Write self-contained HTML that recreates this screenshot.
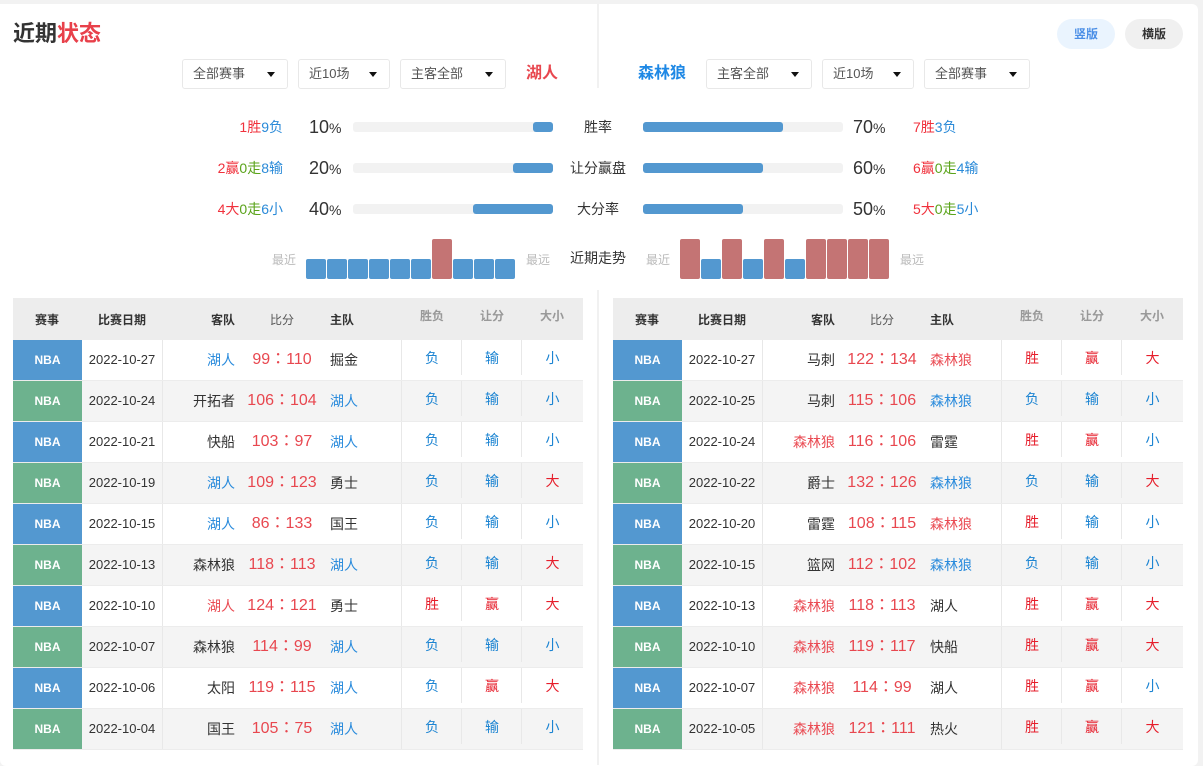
<!DOCTYPE html>
<html><head><meta charset="utf-8">
<style>
*{margin:0;padding:0;box-sizing:border-box}
body{width:1203px;height:765px;background:#f2f2f2;position:relative;overflow:hidden;font-family:"Liberation Sans","Noto Sans CJK SC",sans-serif;color:#333}
.card{position:absolute;left:0;top:4px;width:1198px;height:762px;background:#fff;border-radius:0 6px 6px 6px}
.a{position:absolute;white-space:nowrap}
.vl{position:absolute;left:597px;width:2px;background:#f1f1f1}
.dd{position:absolute;top:59px;height:30px;border:1px solid #e8e8e8;border-radius:3px;font-size:13px;color:#555;line-height:28px;padding-left:10px;background:#fff}
.dd:after{content:"";position:absolute;right:12px;top:12px;border-left:4px solid transparent;border-right:4px solid transparent;border-top:5px solid #111}
.btn{position:absolute;top:19px;height:30px;border-radius:15px;font-size:12px;font-weight:bold;line-height:30px;text-align:center}
.rec{position:absolute;font-size:14px;line-height:20px;height:20px;white-space:nowrap}
.pct{position:absolute;font-size:18px;line-height:22px;height:22px;color:#333}
.pct small{font-size:14px}
.lab{position:absolute;left:548px;width:100px;text-align:center;font-size:14px;line-height:20px;color:#333}
.trk{position:absolute;width:200px;height:10px;background:#f2f2f2;border-radius:3px}
.fill{position:absolute;top:0;height:10px;background:#5398d0;border-radius:3px}
.r1{color:#f0313c}.b1{color:#2a8ad8}.g1{color:#5aa31a}
.far{position:absolute;top:250px;font-size:12px;line-height:20px;color:#bbb}
.bar{position:absolute;width:20px;border-radius:2px}
.bb{background:#5398d0;top:259px;height:20px}
.rb{background:#c47474;top:239px;height:40px}
.tbl{position:absolute;top:298px;width:570px}
.hd{position:relative;height:42px;background:#ededed;font-size:12px;font-weight:bold}
.hd span{position:absolute;width:70px;text-align:center;line-height:20px;top:12px}
.hd span.lt{color:#999;top:8px}
.hd span.nw{font-weight:normal;color:#555}
.r{display:flex;height:41px;border-bottom:1px solid #ececec;background:#fff}
.r.g{background:#f4f4f4}
.c1{width:69px;color:#fff;font-weight:bold;font-size:12px;text-align:center;line-height:40px}
.c1.bl{background:#5398d0}.c1.gr{background:#6db28e}
.c2{width:81px;border-right:1px solid #e8e8e8;font-size:13px;text-align:center;line-height:40px;color:#333}
.c3{width:239px;border-right:1px solid #e8e8e8;position:relative;font-size:14px;line-height:40px}
.c3 .aw{position:absolute;right:166px;top:0}
.c3 .sc{position:absolute;left:69px;width:100px;text-align:center;font-size:16px;color:#e8474f;top:0;font-family:"Liberation Sans","Noto Sans CJK JP",sans-serif}
.c3 .hm{position:absolute;left:167px;top:0}
.c4,.c5,.c6{width:60px;text-align:center;font-size:14px;line-height:36px;position:relative}
.c6{width:61px}
.c4:after,.c5:after{content:"";position:absolute;right:0;top:0;width:1px;height:35px;background:#e8e8e8}
.tb{color:#2a8bdc}.tr{color:#ea4b53}
.xb{color:#1c84d2}.xr{color:#e61e2b}
</style></head><body>
<div class="card"></div>
<div class="vl" style="top:4px;height:84px"></div>
<div class="vl" style="top:290px;height:475px"></div>

<div class="a" style="left:13px;top:21px;font-size:22px;font-weight:bold;line-height:26px"><span style="color:#333">近期</span><span style="color:#e8404a">状态</span></div>
<div class="btn" style="left:1057px;width:58px;background:#eaf4fe;color:#4a8ee6">竖版</div>
<div class="btn" style="left:1125px;width:58px;background:#f0f0f0;color:#333">横版</div>

<div class="dd" style="left:182px;width:106px">全部赛事</div>
<div class="dd" style="left:298px;width:92px">近10场</div>
<div class="dd" style="left:400px;width:106px">主客全部</div>
<div class="a" style="left:526px;top:63px;font-size:16px;font-weight:bold;color:#e8474f;line-height:22px">湖人</div>
<div class="a" style="left:638px;top:63px;font-size:16px;font-weight:bold;color:#1e88e5;line-height:22px">森林狼</div>
<div class="dd" style="left:706px;width:106px">主客全部</div>
<div class="dd" style="left:822px;width:92px">近10场</div>
<div class="dd" style="left:924px;width:106px">全部赛事</div>

<!-- stats row 1 -->
<div class="rec" style="right:920px;top:117px"><span class="r1">1胜</span><span class="b1">9负</span></div>
<div class="pct" style="left:309px;top:116px">10<small>%</small></div>
<div class="trk" style="left:353px;top:122px"><div class="fill" style="right:0;width:20px"></div></div>
<div class="lab" style="top:117px">胜率</div>
<div class="trk" style="left:643px;top:122px"><div class="fill" style="left:0;width:140px"></div></div>
<div class="pct" style="left:853px;top:116px">70<small>%</small></div>
<div class="rec" style="left:913px;top:117px"><span class="r1">7胜</span><span class="b1">3负</span></div>
<!-- row 2 -->
<div class="rec" style="right:920px;top:158px"><span class="r1">2赢</span><span class="g1">0走</span><span class="b1">8输</span></div>
<div class="pct" style="left:309px;top:157px">20<small>%</small></div>
<div class="trk" style="left:353px;top:163px"><div class="fill" style="right:0;width:40px"></div></div>
<div class="lab" style="top:158px">让分赢盘</div>
<div class="trk" style="left:643px;top:163px"><div class="fill" style="left:0;width:120px"></div></div>
<div class="pct" style="left:853px;top:157px">60<small>%</small></div>
<div class="rec" style="left:913px;top:158px"><span class="r1">6赢</span><span class="g1">0走</span><span class="b1">4输</span></div>
<!-- row 3 -->
<div class="rec" style="right:920px;top:199px"><span class="r1">4大</span><span class="g1">0走</span><span class="b1">6小</span></div>
<div class="pct" style="left:309px;top:198px">40<small>%</small></div>
<div class="trk" style="left:353px;top:204px"><div class="fill" style="right:0;width:80px"></div></div>
<div class="lab" style="top:199px">大分率</div>
<div class="trk" style="left:643px;top:204px"><div class="fill" style="left:0;width:100px"></div></div>
<div class="pct" style="left:853px;top:198px">50<small>%</small></div>
<div class="rec" style="left:913px;top:199px"><span class="r1">5大</span><span class="g1">0走</span><span class="b1">5小</span></div>
<!-- trend -->
<div class="far" style="left:272px">最近</div>
<div class="far" style="left:526px">最远</div>
<div class="lab" style="top:248px">近期走势</div>
<div class="far" style="left:646px">最近</div>
<div class="far" style="left:900px">最远</div>
<div class="bar bb" style="left:306px"></div>
<div class="bar bb" style="left:327px"></div>
<div class="bar bb" style="left:348px"></div>
<div class="bar bb" style="left:369px"></div>
<div class="bar bb" style="left:390px"></div>
<div class="bar bb" style="left:411px"></div>
<div class="bar rb" style="left:432px"></div>
<div class="bar bb" style="left:453px"></div>
<div class="bar bb" style="left:474px"></div>
<div class="bar bb" style="left:495px"></div>

<div class="bar rb" style="left:680px"></div>
<div class="bar bb" style="left:701px"></div>
<div class="bar rb" style="left:722px"></div>
<div class="bar bb" style="left:743px"></div>
<div class="bar rb" style="left:764px"></div>
<div class="bar bb" style="left:785px"></div>
<div class="bar rb" style="left:806px"></div>
<div class="bar rb" style="left:827px"></div>
<div class="bar rb" style="left:848px"></div>
<div class="bar rb" style="left:869px"></div>

<!-- left table -->
<div class="tbl" style="left:13px">
<div class="hd"><span style="left:-1px">赛事</span><span style="left:74px">比赛日期</span><span style="left:175px">客队</span><span class="nw" style="left:234px">比分</span><span style="left:294px">主队</span><span class="lt" style="left:384px">胜负</span><span class="lt" style="left:444px">让分</span><span class="lt" style="left:504px">大小</span></div>
<div class="r"><div class="c1 bl">NBA</div><div class="c2">2022-10-27</div><div class="c3"><span class="aw tb">湖人</span><span class="sc">99：110</span><span class="hm">掘金</span></div><div class="c4 xb">负</div><div class="c5 xb">输</div><div class="c6 xb">小</div></div>
<div class="r g"><div class="c1 gr">NBA</div><div class="c2">2022-10-24</div><div class="c3"><span class="aw">开拓者</span><span class="sc">106：104</span><span class="hm tb">湖人</span></div><div class="c4 xb">负</div><div class="c5 xb">输</div><div class="c6 xb">小</div></div>
<div class="r"><div class="c1 bl">NBA</div><div class="c2">2022-10-21</div><div class="c3"><span class="aw">快船</span><span class="sc">103：97</span><span class="hm tb">湖人</span></div><div class="c4 xb">负</div><div class="c5 xb">输</div><div class="c6 xb">小</div></div>
<div class="r g"><div class="c1 gr">NBA</div><div class="c2">2022-10-19</div><div class="c3"><span class="aw tb">湖人</span><span class="sc">109：123</span><span class="hm">勇士</span></div><div class="c4 xb">负</div><div class="c5 xb">输</div><div class="c6 xr">大</div></div>
<div class="r"><div class="c1 bl">NBA</div><div class="c2">2022-10-15</div><div class="c3"><span class="aw tb">湖人</span><span class="sc">86：133</span><span class="hm">国王</span></div><div class="c4 xb">负</div><div class="c5 xb">输</div><div class="c6 xb">小</div></div>
<div class="r g"><div class="c1 gr">NBA</div><div class="c2">2022-10-13</div><div class="c3"><span class="aw">森林狼</span><span class="sc">118：113</span><span class="hm tb">湖人</span></div><div class="c4 xb">负</div><div class="c5 xb">输</div><div class="c6 xr">大</div></div>
<div class="r"><div class="c1 bl">NBA</div><div class="c2">2022-10-10</div><div class="c3"><span class="aw tr">湖人</span><span class="sc">124：121</span><span class="hm">勇士</span></div><div class="c4 xr">胜</div><div class="c5 xr">赢</div><div class="c6 xr">大</div></div>
<div class="r g"><div class="c1 gr">NBA</div><div class="c2">2022-10-07</div><div class="c3"><span class="aw">森林狼</span><span class="sc">114：99</span><span class="hm tb">湖人</span></div><div class="c4 xb">负</div><div class="c5 xb">输</div><div class="c6 xb">小</div></div>
<div class="r"><div class="c1 bl">NBA</div><div class="c2">2022-10-06</div><div class="c3"><span class="aw">太阳</span><span class="sc">119：115</span><span class="hm tb">湖人</span></div><div class="c4 xb">负</div><div class="c5 xr">赢</div><div class="c6 xr">大</div></div>
<div class="r g"><div class="c1 gr">NBA</div><div class="c2">2022-10-04</div><div class="c3"><span class="aw">国王</span><span class="sc">105：75</span><span class="hm tb">湖人</span></div><div class="c4 xb">负</div><div class="c5 xb">输</div><div class="c6 xb">小</div></div>
</div>

<!-- right table -->
<div class="tbl" style="left:613px">
<div class="hd"><span style="left:-1px">赛事</span><span style="left:74px">比赛日期</span><span style="left:175px">客队</span><span class="nw" style="left:234px">比分</span><span style="left:294px">主队</span><span class="lt" style="left:384px">胜负</span><span class="lt" style="left:444px">让分</span><span class="lt" style="left:504px">大小</span></div>
<div class="r"><div class="c1 bl">NBA</div><div class="c2">2022-10-27</div><div class="c3"><span class="aw">马刺</span><span class="sc">122：134</span><span class="hm tr">森林狼</span></div><div class="c4 xr">胜</div><div class="c5 xr">赢</div><div class="c6 xr">大</div></div>
<div class="r g"><div class="c1 gr">NBA</div><div class="c2">2022-10-25</div><div class="c3"><span class="aw">马刺</span><span class="sc">115：106</span><span class="hm tb">森林狼</span></div><div class="c4 xb">负</div><div class="c5 xb">输</div><div class="c6 xb">小</div></div>
<div class="r"><div class="c1 bl">NBA</div><div class="c2">2022-10-24</div><div class="c3"><span class="aw tr">森林狼</span><span class="sc">116：106</span><span class="hm">雷霆</span></div><div class="c4 xr">胜</div><div class="c5 xr">赢</div><div class="c6 xb">小</div></div>
<div class="r g"><div class="c1 gr">NBA</div><div class="c2">2022-10-22</div><div class="c3"><span class="aw">爵士</span><span class="sc">132：126</span><span class="hm tb">森林狼</span></div><div class="c4 xb">负</div><div class="c5 xb">输</div><div class="c6 xr">大</div></div>
<div class="r"><div class="c1 bl">NBA</div><div class="c2">2022-10-20</div><div class="c3"><span class="aw">雷霆</span><span class="sc">108：115</span><span class="hm tr">森林狼</span></div><div class="c4 xr">胜</div><div class="c5 xb">输</div><div class="c6 xb">小</div></div>
<div class="r g"><div class="c1 gr">NBA</div><div class="c2">2022-10-15</div><div class="c3"><span class="aw">篮网</span><span class="sc">112：102</span><span class="hm tb">森林狼</span></div><div class="c4 xb">负</div><div class="c5 xb">输</div><div class="c6 xb">小</div></div>
<div class="r"><div class="c1 bl">NBA</div><div class="c2">2022-10-13</div><div class="c3"><span class="aw tr">森林狼</span><span class="sc">118：113</span><span class="hm">湖人</span></div><div class="c4 xr">胜</div><div class="c5 xr">赢</div><div class="c6 xr">大</div></div>
<div class="r g"><div class="c1 gr">NBA</div><div class="c2">2022-10-10</div><div class="c3"><span class="aw tr">森林狼</span><span class="sc">119：117</span><span class="hm">快船</span></div><div class="c4 xr">胜</div><div class="c5 xr">赢</div><div class="c6 xr">大</div></div>
<div class="r"><div class="c1 bl">NBA</div><div class="c2">2022-10-07</div><div class="c3"><span class="aw tr">森林狼</span><span class="sc">114：99</span><span class="hm">湖人</span></div><div class="c4 xr">胜</div><div class="c5 xr">赢</div><div class="c6 xb">小</div></div>
<div class="r g"><div class="c1 gr">NBA</div><div class="c2">2022-10-05</div><div class="c3"><span class="aw tr">森林狼</span><span class="sc">121：111</span><span class="hm">热火</span></div><div class="c4 xr">胜</div><div class="c5 xr">赢</div><div class="c6 xr">大</div></div>
</div>
</body></html>
